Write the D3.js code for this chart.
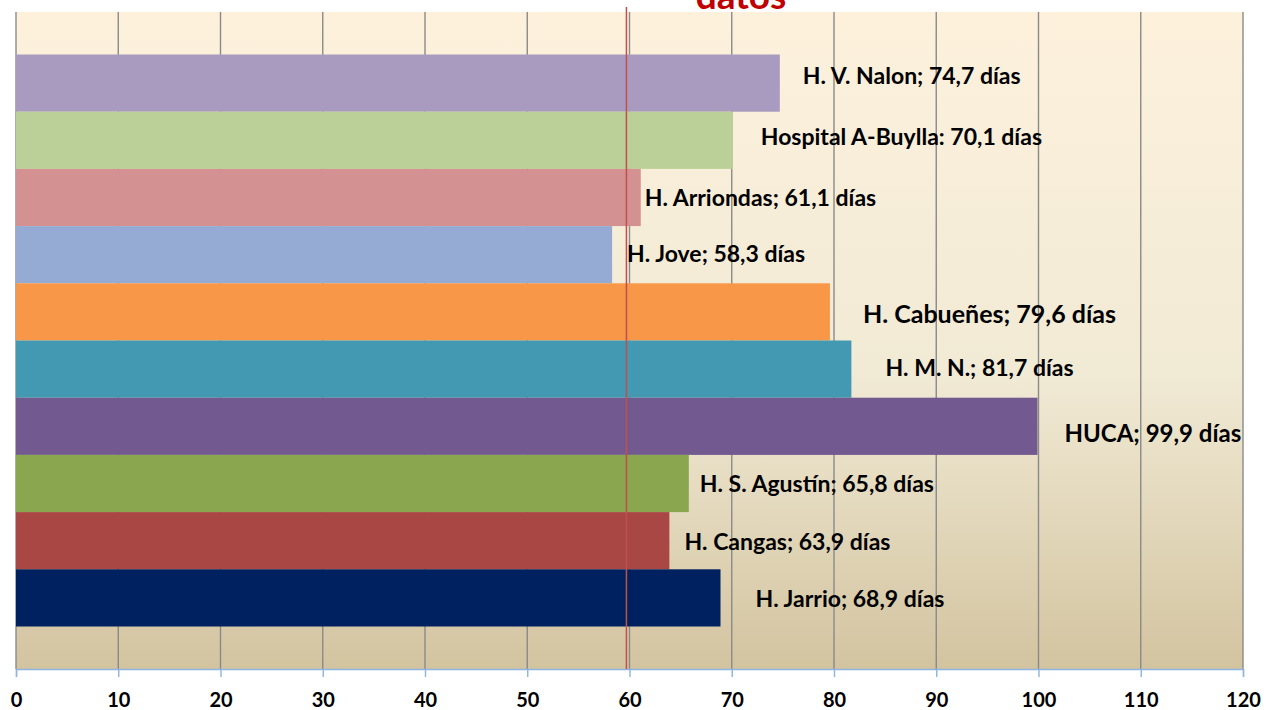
<!DOCTYPE html>
<html>
<head>
<meta charset="utf-8">
<script src="https://cdn.jsdelivr.net/npm/d3@7"></script>
<style>
  body { margin: 0; background: #fff; }
  svg { display: block; font-family: Lato, "Open Sans", sans-serif; font-weight: bold; }
</style>
</head>
<body>
<div id="chart"></div>
<script>
// hospitals, top to bottom
const hospitals = ['H. V. Nalon', 'Hospital A-Buylla', 'H. Arriondas', 'H. Jove', 'H. Cabueñes',
                   'H. M. N.', 'HUCA', 'H. S. Agustín', 'H. Cangas', 'H. Jarrio'];
const separators = [';', ':', ';', ';', ';', ';', ';', ';', ';', ';'];
const days = [74.7, 70.1, 61.1, 58.3, 79.6, 81.7, 99.9, 65.8, 63.9, 68.9];
const barColors = ['#a99bbf', '#bbd098', '#d49191', '#95abd4', '#f79747',
                   '#4399b1', '#72598f', '#8aa64f', '#a94745', '#00215f'];
const xTicks = [0, 10, 20, 30, 40, 50, 60, 70, 80, 90, 100, 110, 120];
const refValue = 59.7;
const titleText = 'datos';

// manual label placement (px from bar end, baseline px from band centre, font size)
const labelDx = [23, 28, 4, 15, 33, 34, 27, 11, 15, 35];
const labelDy = [0.5, 5, 9, 7.5, 11.5, 6.5, 16, 8.5, 9, 9.5];
const labelSize = [23, 23, 23, 23, 25, 23, 24, 23, 23, 23];

const W = 1267, H = 710;
const margin = { top: 12, right: 24, bottom: 41, left: 16 };
const width = W - margin.left - margin.right;
const height = H - margin.top - margin.bottom;

const svg = d3.select('#chart').append('svg')
    .attr('width', W)
    .attr('height', H);

const defs = svg.append('defs');
const grad = defs.append('linearGradient')
    .attr('id', 'bg')
    .attr('x1', 0).attr('y1', 0).attr('x2', 0).attr('y2', 1);
grad.append('stop').attr('offset', '0%').attr('stop-color', '#fdf1dc');
grad.append('stop').attr('offset', '55%').attr('stop-color', '#f1ead5');
grad.append('stop').attr('offset', '100%').attr('stop-color', '#d3c4a0');

const g = svg.append('g')
    .attr('transform', `translate(${margin.left},${margin.top})`);

const x = d3.scaleLinear().domain([0, 120]).range([0, width]);
const y = d3.scaleBand()
    .domain(hospitals)
    .range([0, height])
    .paddingInner(0)
    .paddingOuter(0.743);

// plot background
g.append('rect')
    .attr('width', width)
    .attr('height', height)
    .attr('fill', 'url(#bg)');

// vertical gridlines
g.append('g').selectAll('line')
    .data(xTicks)
    .join('line')
    .attr('x1', d => x(d)).attr('x2', d => x(d))
    .attr('y1', 0).attr('y2', height)
    .attr('stroke', '#8a8a8a')
    .attr('stroke-width', 1.4);

// bars
g.append('g').selectAll('rect')
    .data(hospitals)
    .join('rect')
    .attr('x', x(0))
    .attr('y', d => y(d))
    .attr('width', (d, i) => x(days[i]) - x(0))
    .attr('height', y.bandwidth())
    .attr('fill', (d, i) => barColors[i]);

// x axis
const xAxis = d3.axisBottom(x)
    .tickValues(xTicks)
    .tickSize(8)
    .tickPadding(16);
const axisG = g.append('g')
    .attr('transform', `translate(0,${height})`)
    .call(xAxis);
axisG.select('.domain').attr('stroke', '#8db3e2').attr('stroke-width', 1.4);
axisG.selectAll('.tick line').attr('stroke', '#8db3e2').attr('stroke-width', 1.4);
axisG.selectAll('.tick text')
    .attr('fill', '#000')
    .style('font-family', 'Lato, sans-serif')
    .style('font-weight', 'bold')
    .style('font-size', '20px');

// reference line
g.append('line')
    .attr('x1', x(refValue)).attr('x2', x(refValue))
    .attr('y1', -5).attr('y2', height)
    .attr('stroke', '#c0504d')
    .attr('stroke-width', 1.5);

// data labels
const fmt = v => d3.format('.1f')(v).replace('.', ',');
g.append('g').selectAll('text')
    .data(hospitals)
    .join('text')
    .attr('x', (d, i) => x(days[i]) + labelDx[i])
    .attr('y', (d, i) => y(d) + y.bandwidth() / 2 + labelDy[i])
    .attr('fill', '#000')
    .style('font-size', (d, i) => labelSize[i] + 'px')
    .text((d, i) => `${d}${separators[i]} ${fmt(days[i])} días`);

// title (cut off at the top, as in the source image)
svg.append('text')
    .attr('x', 741)
    .attr('y', 9)
    .attr('text-anchor', 'middle')
    .attr('fill', '#c00000')
    .style('font-size', '37px')
    .text(titleText);
</script>
</body>
</html>
